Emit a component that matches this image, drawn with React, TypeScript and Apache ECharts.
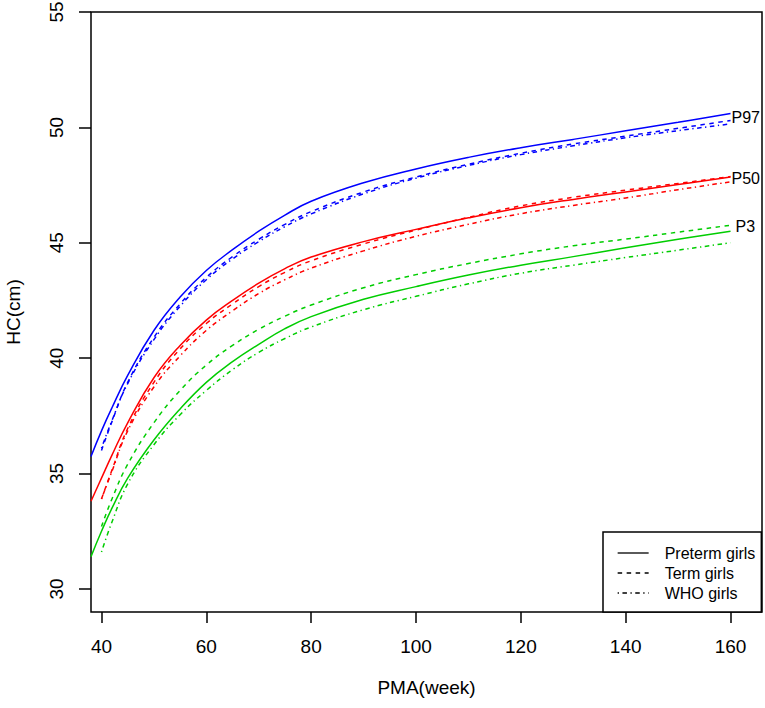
import React, { useEffect, useRef } from "react";
import * as echarts from "echarts";

const FONT = "Liberation Sans, Arial, Helvetica, sans-serif";

const weeksPreterm = [38, 40, 42, 45, 50, 55, 60, 65, 70, 75, 80, 90, 100, 110, 120, 130, 140, 150, 160];
const weeksRef = [40, 42, 45, 50, 55, 60, 65, 70, 75, 80, 90, 100, 110, 120, 130, 140, 150, 160];

const p97Preterm = [35.74, 36.85, 37.85, 39.25, 41.2, 42.65, 43.8, 44.7, 45.5, 46.2, 46.8, 47.6, 48.2, 48.7, 49.12, 49.48, 49.85, 50.22, 50.6];
const p50Preterm = [33.8, 34.8, 35.8, 37.2, 39.15, 40.55, 41.65, 42.5, 43.25, 43.88, 44.38, 45.05, 45.58, 46.08, 46.52, 46.88, 47.2, 47.52, 47.85];
const p3Preterm = [31.4, 32.5, 33.5, 34.8, 36.45, 37.8, 38.95, 39.85, 40.6, 41.28, 41.8, 42.55, 43.1, 43.6, 44.03, 44.4, 44.78, 45.15, 45.5];

const p97Term = [36.0, 37.25, 38.95, 40.9, 42.35, 43.5, 44.4, 45.15, 45.8, 46.35, 47.2, 47.85, 48.4, 48.88, 49.28, 49.62, 49.96, 50.3];
const p50Term = [33.9, 35.15, 36.95, 38.95, 40.4, 41.5, 42.35, 43.1, 43.72, 44.22, 44.95, 45.55, 46.1, 46.6, 46.97, 47.28, 47.57, 47.87];
const p3Term = [32.7, 33.9, 35.4, 37.2, 38.6, 39.7, 40.55, 41.25, 41.82, 42.3, 43.05, 43.62, 44.1, 44.52, 44.87, 45.16, 45.46, 45.76];

const p97Who = [36.1, 37.3, 38.9, 40.8, 42.25, 43.4, 44.3, 45.05, 45.7, 46.25, 47.12, 47.8, 48.35, 48.82, 49.2, 49.55, 49.86, 50.15];
const p50Who = [33.9, 35.1, 36.85, 38.75, 40.1, 41.2, 42.05, 42.8, 43.4, 43.9, 44.65, 45.28, 45.8, 46.26, 46.62, 46.94, 47.3, 47.64];
const p3Who = [31.6, 32.9, 34.55, 36.25, 37.55, 38.6, 39.5, 40.25, 40.85, 41.35, 42.1, 42.68, 43.22, 43.68, 44.03, 44.36, 44.68, 45.0];

const xTicks = [40, 60, 80, 100, 120, 140, 160];
const yTicks = [30, 35, 40, 45, 50, 55];

const groupNames = ["Preterm girls", "Term girls", "WHO girls"];
const percentileLabels = ["P97", "P50", "P3"];

const BLUE = "#0000FF";
const RED = "#FF0000";
const GREEN = "#00CD00";
const SOLID: any = "solid";
const DASHED: any = [4.5, 4.5];
const DOTDASH: any = [1.3, 3.5, 4.5, 3.5];

function line(
  name: string,
  weeks: number[],
  vals: number[],
  color: string,
  type: any,
  label?: { text: string; d: number; dy: number }
) {
  return {
    type: "line",
    name,
    data: weeks.map((w, i) => [w, vals[i]]),
    smooth: 0.45,
    symbol: "none",
    showSymbol: false,
    silent: true,
    lineStyle: { color, width: 1.5, type },
    itemStyle: { color },
    endLabel: label
      ? {
          show: true,
          formatter: label.text,
          color: "#000",
          fontSize: 16,
          fontFamily: FONT,
          distance: label.d,
          offset: [0, label.dy],
        }
      : { show: false },
  };
}

export default function App() {
  const ref = useRef<HTMLDivElement>(null);
  useEffect(() => {
    if (!ref.current) return;
    const chart = echarts.init(ref.current, undefined, { renderer: "svg" });
    const series: any[] = [
      line("p97pre", weeksPreterm, p97Preterm, BLUE, SOLID, { text: percentileLabels[0], d: 1, dy: 3.5 }),
      line("p50pre", weeksPreterm, p50Preterm, RED, SOLID, { text: percentileLabels[1], d: 1, dy: 1.7 }),
      line("p3pre", weeksPreterm, p3Preterm, GREEN, SOLID, { text: percentileLabels[2], d: 5, dy: -4.5 }),
      line("p97term", weeksRef, p97Term, BLUE, DASHED),
      line("p50term", weeksRef, p50Term, RED, DASHED),
      line("p3term", weeksRef, p3Term, GREEN, DASHED),
      line("p97who", weeksRef, p97Who, BLUE, DOTDASH),
      line("p50who", weeksRef, p50Who, RED, DOTDASH),
      line("p3who", weeksRef, p3Who, GREEN, DOTDASH),
      line(groupNames[0], [], [], "#000", SOLID),
      line(groupNames[1], [], [], "#000", DASHED),
      line(groupNames[2], [], [], "#000", DOTDASH),
    ];
    chart.setOption({
      animation: false,
      backgroundColor: "#fff",
      textStyle: { fontFamily: FONT },
      grid: {
        left: 91,
        right: 3,
        top: 12,
        bottom: 96,
        show: true,
        borderColor: "#000",
        borderWidth: 1.5,
        backgroundColor: "transparent",
        outerBoundsMode: "none",
        containLabel: false,
      },
      legend: {
        data: groupNames,
        orient: "vertical",
        left: 603,
        top: 532,
        padding: [13, 6, 11, 14],
        itemWidth: 31,
        itemHeight: 16,
        itemGap: 4,
        borderColor: "#000",
        borderWidth: 1.5,
        backgroundColor: "#fff",
        selectedMode: false,
        itemStyle: { opacity: 0, borderWidth: 0 },
        lineStyle: { width: 1.3 },
        textStyle: { color: "#000", fontSize: 16, fontFamily: FONT, padding: [0, 0, 0, 11] },
      },
      xAxis: {
        type: "value",
        min: 38,
        max: 166,
        name: "PMA(week)",
        nameLocation: "middle",
        nameGap: 66,
        nameTextStyle: { color: "#000", fontSize: 19, fontFamily: FONT },
        axisLine: { show: false },
        splitLine: { show: false },
        axisTick: { show: true, length: 11, customValues: xTicks, lineStyle: { color: "#000", width: 1.5 } },
        axisLabel: { customValues: xTicks, color: "#000", fontSize: 19, fontFamily: FONT, margin: 25 },
      },
      yAxis: {
        type: "value",
        min: 29,
        max: 55,
        name: "HC(cm)",
        nameLocation: "middle",
        nameRotate: 90,
        nameGap: 68,
        nameTextStyle: { color: "#000", fontSize: 19, fontFamily: FONT },
        axisLine: { show: false },
        splitLine: { show: false },
        axisTick: { show: true, length: 12, customValues: yTicks, lineStyle: { color: "#000", width: 1.5 } },
        axisLabel: { customValues: yTicks, rotate: 90, color: "#000", fontSize: 19, fontFamily: FONT, margin: 25 },
      },
      series,
    });
    return () => chart.dispose();
  }, []);
  return (
    <div
      ref={ref}
      style={{ position: "fixed", left: 0, top: 0, width: 765, height: 708 }}
    />
  );
}
